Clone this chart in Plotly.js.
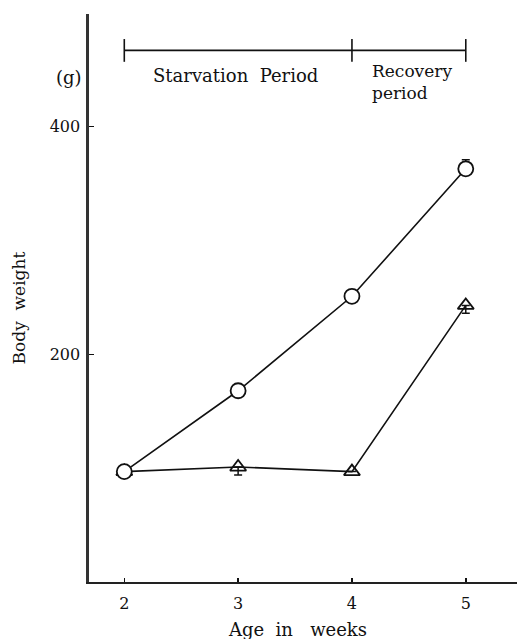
<!DOCTYPE html>
<html>
<head>
<meta charset="utf-8">
<script src="https://cdn.plot.ly/plotly-3.0.1.min.js"></script>
<style>html,body{margin:0;padding:0;background:#fff;}#chart{width:517px;height:639px;}</style>
</head>
<body>
<div id="chart"></div>
<script>
// Data
var weeks = [2, 3, 4, 5];
var controlWeight = [97, 168, 251, 363];      // open circles
var starvedWeight = [97, 101, 97, 243];       // open triangles
var controlErrPlus = [0, 0, 0, 8];
var starvedErrMinus = [0, 7, 0, 7];
var periodBounds = [2, 4, 5];
var periodLabels = ["Starvation\u00a0\u00a0Period", "Recovery<br>period"];
var periodLabelX = [2.98, 4.53];
var periodLabelY = [445, 439];
var bracketY = 467;
var bracketTick = 10;
var yTicks = [200, 400];
var xTicks = [2, 3, 4, 5];

var serif = "DejaVu Serif, Liberation Serif, serif";

var traces = [
  {
    x: weeks, y: starvedWeight, type: 'scatter', mode: 'lines+markers',
    line: {color: '#111', width: 1.6},
    marker: {symbol: 'triangle-up-open', size: 14, color: '#111', line: {width: 1.8, color: '#111'}},
    error_y: {type: 'data', symmetric: false, array: [0,0,0,0], arrayminus: starvedErrMinus, width: 4, thickness: 1.5, color: '#111'},
    showlegend: false, cliponaxis: false
  },
  {
    x: weeks, y: controlWeight, type: 'scatter', mode: 'lines+markers',
    line: {color: '#111', width: 1.6},
    marker: {symbol: 'circle', size: 15, color: '#fff', line: {width: 1.8, color: '#111'}},
    error_y: {type: 'data', symmetric: false, array: controlErrPlus, arrayminus: [0,0,0,0], width: 4, thickness: 1.5, color: '#111'},
    showlegend: false, cliponaxis: false
  }
];

var shapes = [{
  type: 'line', xref: 'x', yref: 'y',
  x0: periodBounds[0], x1: periodBounds[periodBounds.length - 1], y0: bracketY, y1: bracketY,
  line: {color: '#111', width: 1.6}
}];
periodBounds.forEach(function (b) {
  shapes.push({type: 'line', xref: 'x', yref: 'y', x0: b, x1: b,
    y0: bracketY - bracketTick, y1: bracketY + bracketTick, line: {color: '#111', width: 1.6}});
});

var annotations = [];
periodLabels.forEach(function (t, i) {
  annotations.push({x: periodLabelX[i], y: periodLabelY[i], xref: 'x', yref: 'y', text: t,
    showarrow: false, font: {family: serif, size: i === 0 ? 18 : 17, color: '#111'}, align: 'left'});
});
annotations.push({x: -0.012, y: 0.889, xref: 'paper', yref: 'paper', text: '(g)', showarrow: false,
  xanchor: 'right', yanchor: 'middle', font: {family: serif, size: 18, color: '#111'}});
annotations.push({x: -0.164, y: 0.483, xref: 'paper', yref: 'paper', text: 'Body\u00a0\u00a0weight', showarrow: false,
  textangle: -90, xanchor: 'center', yanchor: 'middle', font: {family: serif, size: 17, color: '#111'}});
annotations.push({x: 0.487, y: -0.084, xref: 'paper', yref: 'paper', text: 'Age\u00a0\u00a0in\u00a0\u00a0\u00a0weeks', showarrow: false,
  xanchor: 'center', yanchor: 'middle', font: {family: serif, size: 18, color: '#111'}});

var layout = {
  width: 517, height: 639,
  margin: {l: 89, r: 0, t: 14, b: 57, pad: 0},
  paper_bgcolor: '#fff', plot_bgcolor: '#fff',
  showlegend: false,
  xaxis: {
    range: [1.69, 5.45], tickmode: 'array', tickvals: xTicks, ticktext: xTicks.map(String),
    ticks: 'inside', ticklen: 4, tickwidth: 1.5, tickcolor: '#111',
    showline: true, linecolor: '#222', linewidth: 2.2, showgrid: false, zeroline: false,
    tickfont: {family: serif, size: 16, color: '#111'}, ticklabelstandoff: 6, fixedrange: true
  },
  yaxis: {
    range: [0, 499], tickmode: 'array', tickvals: yTicks, ticktext: yTicks.map(String),
    ticks: 'inside', ticklen: 5, tickwidth: 1.5, tickcolor: '#111',
    showline: true, linecolor: '#333', linewidth: 2.6, showgrid: false, zeroline: false,
    tickfont: {family: serif, size: 16, color: '#111'}, ticklabelstandoff: 3, fixedrange: true
  },
  shapes: shapes,
  annotations: annotations
};

Plotly.newPlot('chart', traces, layout, {displayModeBar: false, staticPlot: true});
</script>
</body>
</html>
